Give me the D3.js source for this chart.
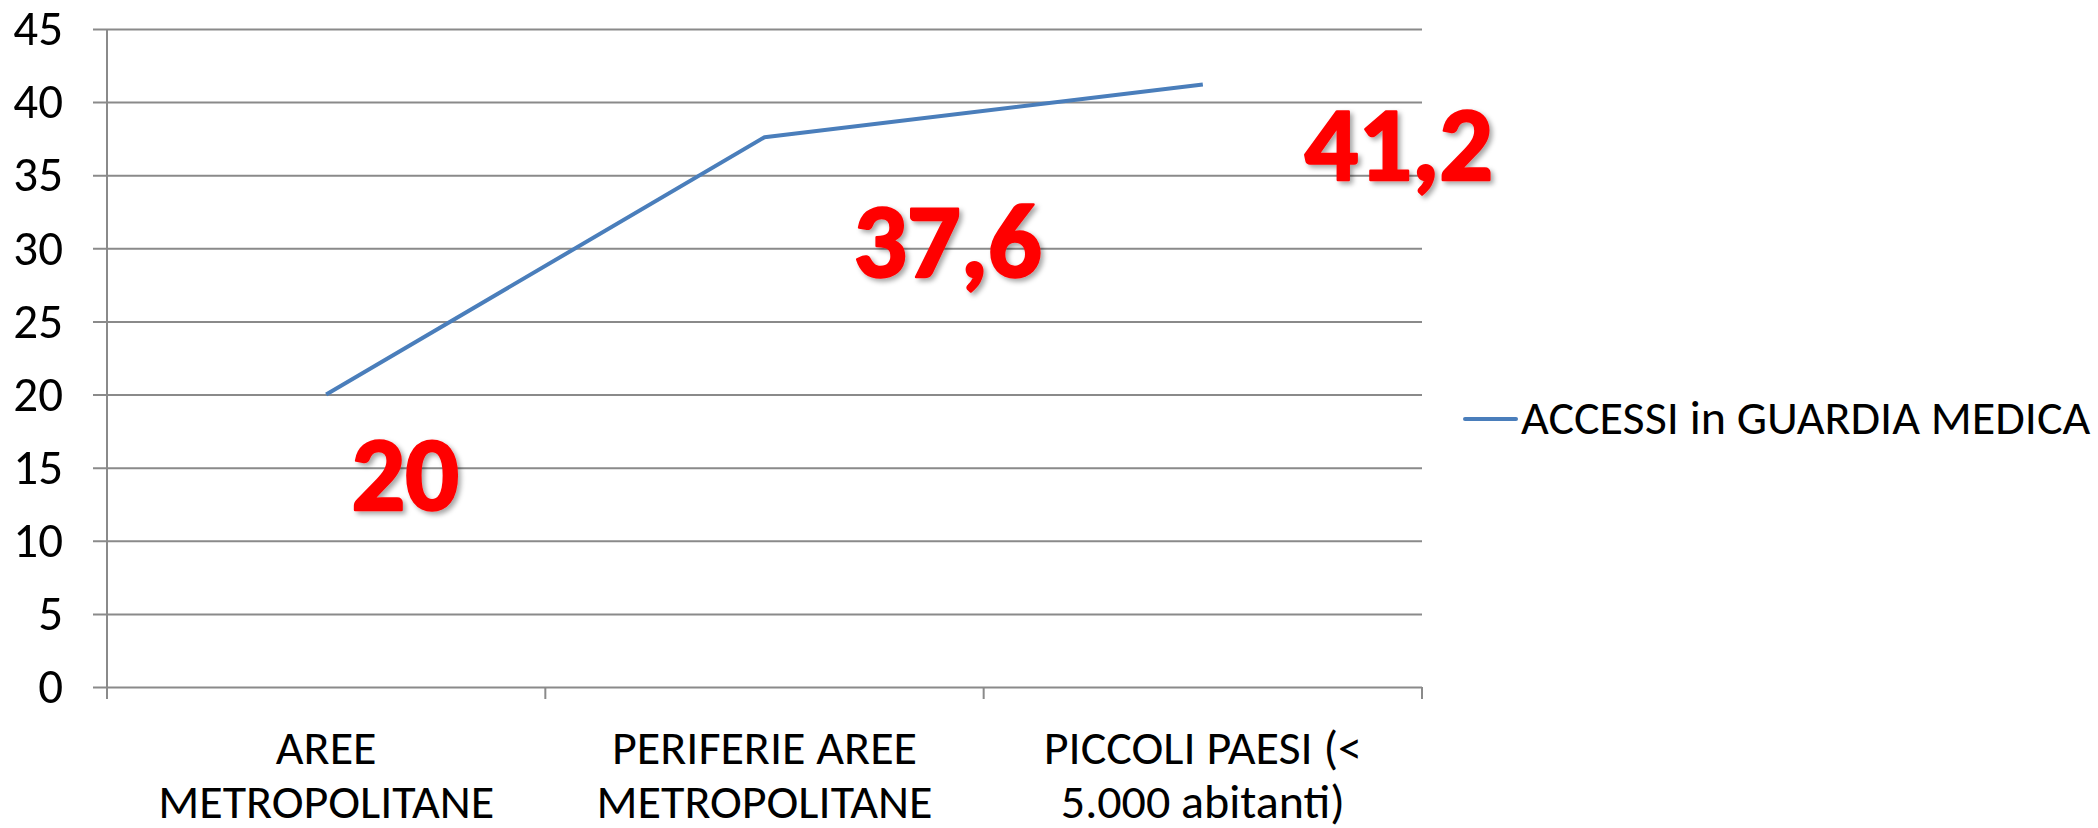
<!DOCTYPE html>
<html>
<head>
<meta charset="utf-8">
<script src="https://cdn.jsdelivr.net/npm/d3@7"></script>
<style>
    body { margin: 0; background: #fff; }
    svg text { font-family: Carlito, Calibri, Lato, sans-serif; }
</style>
</head>
<body>
<div id="chart"></div>
<script>
// data
const categories = ["AREE METROPOLITANE", "PERIFERIE AREE METROPOLITANE", "PICCOLI PAESI (< 5.000 abitanti)"];
const categoryLines = [["AREE", "METROPOLITANE"], ["PERIFERIE AREE", "METROPOLITANE"], ["PICCOLI PAESI (<", "5.000 abitanti)"]];
const values = [20, 37.6, 41.2];
const valueLabels = ["20", "37,6", "41,2"];
const yTicks = [0, 5, 10, 15, 20, 25, 30, 35, 40, 45];
const seriesName = "ACCESSI in GUARDIA MEDICA";

// label box offsets from each point (layout only)
const labelOffsets = [[79, 115], [183, 140], [196, 95]];

// margin convention
const svgWidth = 2098,
    svgHeight = 828,
    margin = { top: 29, right: 676, bottom: 141, left: 107 },
    width = svgWidth - margin.left - margin.right,
    height = svgHeight - margin.top - margin.bottom;

let svg = d3.select("#chart").append("svg")
    .attr("width", svgWidth)
    .attr("height", svgHeight);

let defs = svg.append("defs");
let shadow = defs.append("filter")
    .attr("id", "shadow")
    .attr("x", "-20%").attr("y", "-20%")
    .attr("width", "150%").attr("height", "150%");
shadow.append("feDropShadow")
    .attr("dx", 3).attr("dy", 3)
    .attr("stdDeviation", 2.5)
    .attr("flood-color", "#000")
    .attr("flood-opacity", 0.35);

let g = svg.append("g")
    .attr("transform", `translate(${margin.left},${margin.top})`);

// scales
let xScale = d3.scaleBand()
    .domain(categories)
    .range([0, width]);
let yScale = d3.scaleLinear()
    .domain([0, 45])
    .range([height, 0]);

const gridColor = "#8a8a8a";

// gridlines + y ticks
let yAxis = g.append("g")
    .call(d3.axisLeft(yScale).tickValues(yTicks).tickSize(14).tickSizeOuter(0).tickPadding(30));
yAxis.select(".domain").remove();
yAxis.selectAll(".tick line")
    .attr("stroke", gridColor)
    .attr("stroke-width", 2)
    .attr("x1", -14)
    .attr("x2", width);
yAxis.selectAll(".tick text")
    .attr("font-size", 49)
    .attr("fill", "#000");

// vertical axis line
g.append("line")
    .attr("x1", 0).attr("x2", 0)
    .attr("y1", 0).attr("y2", height + 12)
    .attr("stroke", gridColor)
    .attr("stroke-width", 2);

// category boundary ticks
let bounds = categories.map((c) => xScale(c)).concat([width]);
g.selectAll(".cat-tick")
    .data(bounds.slice(1))
    .join("line")
    .attr("class", "cat-tick")
    .attr("x1", (d) => d).attr("x2", (d) => d)
    .attr("y1", height).attr("y2", height + 12)
    .attr("stroke", gridColor)
    .attr("stroke-width", 2);

// category labels
let catLabels = g.selectAll(".cat-label")
    .data(categories)
    .join("text")
    .attr("class", "cat-label")
    .attr("text-anchor", "middle")
    .attr("font-size", 48)
    .attr("fill", "#000")
    .attr("transform", (d) => `translate(${xScale(d) + xScale.bandwidth() / 2},${height + 77})`);
catLabels.selectAll("tspan")
    .data((d, i) => categoryLines[i])
    .join("tspan")
    .attr("x", 0)
    .attr("dy", (d, i) => i === 0 ? 0 : 54)
    .text((d) => d);

// line
let pts = categories.map((c, i) => ({ cat: c, v: values[i], label: valueLabels[i] }));
let line = d3.line()
    .x((d) => xScale(d.cat) + xScale.bandwidth() / 2)
    .y((d) => yScale(d.v));
g.append("path")
    .datum(pts)
    .attr("d", line)
    .attr("fill", "none")
    .attr("stroke", "#4a7ebb")
    .attr("stroke-width", 4)
    .attr("stroke-linejoin", "round");

// red value labels
g.selectAll(".val-label")
    .data(pts)
    .join("text")
    .attr("class", "val-label")
    .attr("text-anchor", "middle")
    .attr("font-size", 106)
    .attr("font-weight", "bold")
    .attr("fill", "#ff0000")
    .attr("stroke", "#ff0000")
    .attr("stroke-width", 2.5)
    .attr("stroke-linejoin", "round")
    .attr("filter", "url(#shadow)")
    .attr("x", (d, i) => xScale(d.cat) + xScale.bandwidth() / 2 + labelOffsets[i][0])
    .attr("y", (d, i) => yScale(d.v) + labelOffsets[i][1])
    .text((d) => d.label);

// legend
let legend = svg.append("g")
    .attr("transform", `translate(1465,419)`);
legend.append("line")
    .attr("x1", 0).attr("x2", 51)
    .attr("y1", 0).attr("y2", 0)
    .attr("stroke", "#4a7ebb")
    .attr("stroke-width", 4)
    .attr("stroke-linecap", "round");
legend.append("text")
    .attr("x", 56)
    .attr("y", 15)
    .attr("font-size", 48)
    .attr("fill", "#000")
    .text(seriesName);
</script>
</body>
</html>
